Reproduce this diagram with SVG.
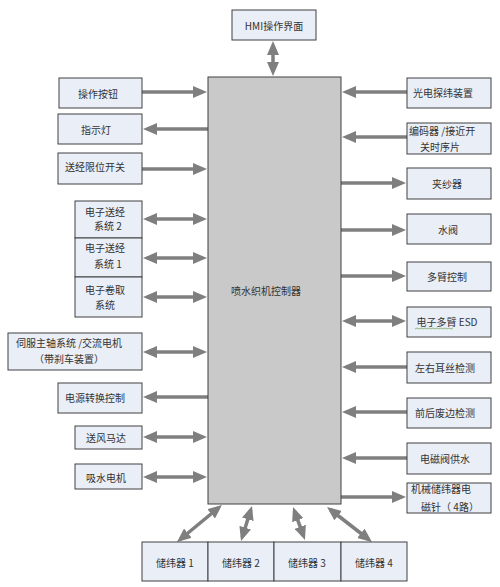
<svg xmlns="http://www.w3.org/2000/svg" width="500" height="587" viewBox="0 0 500 587">
<style>
.b{fill:#e9eef7;stroke:#404040;stroke-width:1}
.c{fill:#c9c9c9;stroke:#404040;stroke-width:1}
.t{font-family:"Noto Sans CJK SC","Liberation Sans",sans-serif;font-size:10px;fill:#333;text-anchor:middle;dominant-baseline:central}
.s{text-anchor:start}
.a{stroke:#7f7f7f;stroke-width:3.5;fill:none;marker-end:url(#h)}
.d{marker-start:url(#h)}
</style>
<defs>
<marker id="h" markerUnits="userSpaceOnUse" viewBox="0 0 14 12" markerWidth="14" markerHeight="12" refX="10" refY="6" orient="auto-start-reverse">
<path d="M0,0 L14,6 L0,12 z" fill="#7f7f7f"/>
</marker>
</defs>
<rect width="500" height="587" fill="#fff"/>
<g id="connectors">
<line class="a d" x1="273" y1="45" x2="273" y2="72"/>
<line class="a" x1="142" y1="92" x2="203" y2="92"/>
<line class="a" x1="208" y1="129" x2="147" y2="129"/>
<line class="a" x1="142" y1="169" x2="203" y2="169"/>
<line class="a d" x1="147" y1="219" x2="203" y2="219"/>
<line class="a d" x1="147" y1="258" x2="203" y2="258"/>
<line class="a d" x1="147" y1="297" x2="203" y2="297"/>
<line class="a d" x1="147" y1="352" x2="203" y2="352"/>
<line class="a" x1="208" y1="397" x2="147" y2="397"/>
<line class="a d" x1="147" y1="437" x2="203" y2="437"/>
<line class="a d" x1="147" y1="477" x2="203" y2="477"/>
<line class="a" x1="407" y1="92" x2="346" y2="92"/>
<line class="a" x1="407" y1="137" x2="346" y2="137"/>
<line class="a" x1="341" y1="183" x2="402" y2="183"/>
<line class="a" x1="341" y1="230" x2="402" y2="230"/>
<line class="a" x1="341" y1="276" x2="402" y2="276"/>
<line class="a d" x1="346" y1="321" x2="402" y2="321"/>
<line class="a" x1="407" y1="367" x2="346" y2="367"/>
<line class="a" x1="407" y1="412" x2="346" y2="412"/>
<line class="a" x1="407" y1="458" x2="346" y2="458"/>
<line class="a" x1="341" y1="497" x2="402" y2="497"/>
<line class="a d" x1="218.9" y1="507.5" x2="180.1" y2="539.5"/>
<line class="a d" x1="250.8" y1="509.8" x2="242.2" y2="537.2"/>
<line class="a d" x1="294.4" y1="510.8" x2="303.6" y2="536.2"/>
<line class="a d" x1="330.2" y1="509.5" x2="368.8" y2="539.5"/>
</g>
<g id="controller"><rect class="c" x="208" y="77" width="133" height="427"/><text class="t" x="266" y="290">喷水织机控制器</text></g>
<g id="hmi"><rect class="b" x="232" y="10" width="84" height="30"/><text class="t" x="274" y="25">HMI操作界面</text></g>
<g id="n1"><rect class="b" x="59" y="78" width="83" height="30"/><text class="t" x="98" y="93">操作按钮</text></g>
<g id="n2"><rect class="b" x="58" y="114" width="84" height="30"/><text class="t" x="96" y="129">指示灯</text></g>
<g id="n3"><rect class="b" x="58" y="153" width="84" height="31"/><text class="t" x="95" y="166">送经限位开关</text></g>
<g id="n4"><rect class="b" x="75" y="201" width="67" height="37"/><text class="t" x="105" y="211">电子送经</text><text class="t" x="108" y="225">系统 2</text></g>
<g id="n5"><rect class="b" x="75" y="238" width="67" height="39"/><text class="t" x="105" y="247">电子送经</text><text class="t" x="108" y="263">系统 1</text></g>
<g id="n6"><rect class="b" x="75" y="277" width="67" height="40"/><text class="t" x="105" y="289">电子卷取</text><text class="t" x="105" y="304">系统</text></g>
<g id="n7"><rect class="b" x="8" y="333" width="134" height="37"/><text class="t" x="69" y="342">伺服主轴系统 /交流电机</text><text class="t" x="69" y="358">（带刹车装置）</text></g>
<g id="n8"><rect class="b" x="58" y="383" width="84" height="30"/><text class="t" x="95" y="397">电源转换控制</text></g>
<g id="n9"><rect class="b" x="75" y="426" width="67" height="23"/><text class="t" x="106" y="437">送风马达</text></g>
<g id="n10"><rect class="b" x="75" y="464" width="67" height="25"/><text class="t" x="106" y="477">吸水电机</text></g>
<g id="r1"><rect class="b" x="407" y="78" width="84" height="30"/><text class="t" x="443" y="92">光电探纬装置</text></g>
<g id="r2"><rect class="b" x="407" y="123" width="84" height="31"/><text class="t s" x="409" y="130">编码器 /接近开</text><text class="t" x="440" y="146">关时序片</text></g>
<g id="r3"><rect class="b" x="407" y="168" width="84" height="31"/><text class="t" x="447" y="183">夹纱器</text></g>
<g id="r4"><rect class="b" x="407" y="214" width="84" height="30"/><text class="t" x="448" y="229">水阀</text></g>
<g id="r5"><rect class="b" x="407" y="262" width="84" height="29"/><text class="t" x="447" y="276">多臂控制</text></g>
<g id="r6"><rect class="b" x="407" y="307" width="84" height="30"/><text class="t" x="447" y="321">电子多臂 ESD</text><path d="M415,329 l2,-1 l2,1 l2,-1 l2,1 l2,-1 l2,1 l2,-1 l2,1 l2,-1 l2,1 l2,-1 l2,1 l2,-1 l2,1 l2,-1 l2,1 l2,-1 l2,1 l2,-1" fill="none" stroke="#6a9a4a" stroke-width="0.7"/></g>
<g id="r7"><rect class="b" x="407" y="352" width="84" height="31"/><text class="t" x="445" y="367">左右耳丝检测</text></g>
<g id="r8"><rect class="b" x="407" y="398" width="84" height="30"/><text class="t" x="445" y="412">前后废边检测</text></g>
<g id="r9"><rect class="b" x="407" y="443" width="84" height="31"/><text class="t" x="445" y="458">电磁阀供水</text></g>
<g id="r10"><rect class="b" x="407" y="483" width="84" height="30"/><text class="t s" x="411" y="488">机械储纬器电</text><text class="t" x="450" y="506">磁针（ 4路）</text></g>
<g id="s1"><rect class="b" x="142" y="542" width="66" height="39"/><text class="t" x="175" y="562">储纬器 1</text></g>
<g id="s2"><rect class="b" x="208" y="542" width="66" height="39"/><text class="t" x="241" y="562">储纬器 2</text></g>
<g id="s3"><rect class="b" x="274" y="542" width="67" height="39"/><text class="t" x="307" y="562">储纬器 3</text></g>
<g id="s4"><rect class="b" x="341" y="542" width="66" height="39"/><text class="t" x="374" y="562">储纬器 4</text></g>
</svg>
